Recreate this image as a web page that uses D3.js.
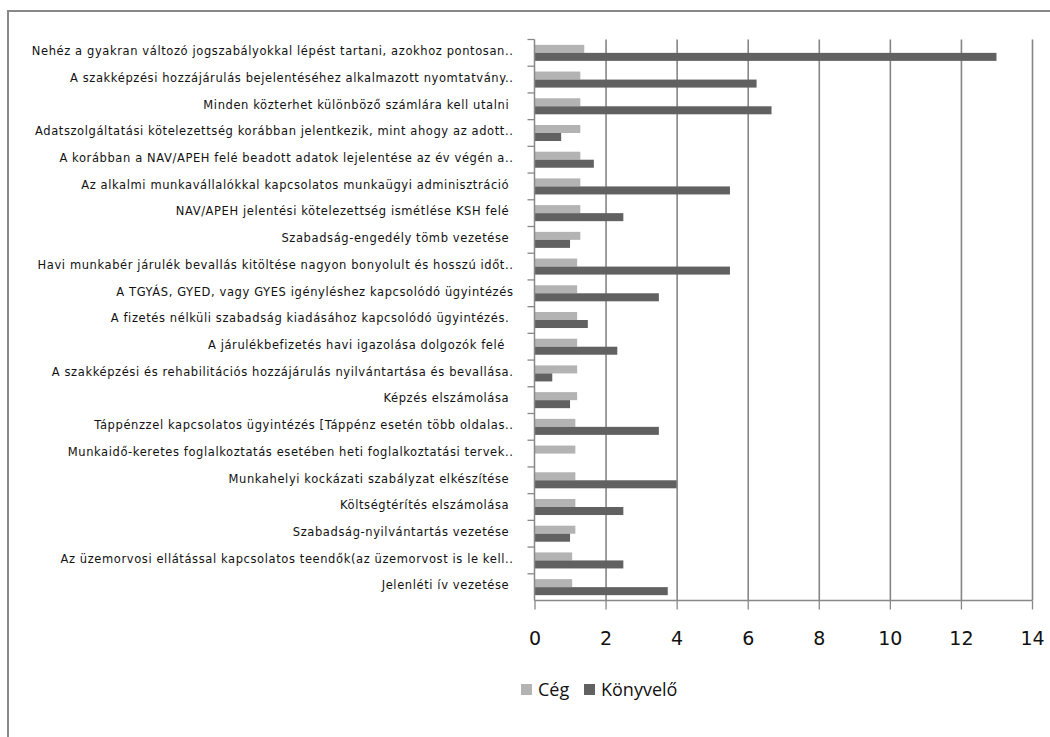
<!DOCTYPE html>
<html>
<head>
<meta charset="utf-8">
<script src="https://cdn.jsdelivr.net/npm/d3@7"></script>
<style>
  html, body { margin: 0; padding: 0; background: #fff; }
  svg { display: block; }
</style>
</head>
<body>
<script>
// Adminisztratív terhek: Cég vs. Könyvelő értékelése
const categories = [
  "Nehéz a gyakran változó jogszabályokkal lépést tartani, azokhoz pontosan..",
  "A szakképzési hozzájárulás bejelentéséhez alkalmazott nyomtatvány..",
  "Minden közterhet különböző számlára kell utalni\u00a0",
  "Adatszolgáltatási kötelezettség korábban jelentkezik, mint ahogy az adott..",
  "A korábban a NAV/APEH felé beadott adatok lejelentése az év végén a..",
  "Az alkalmi munkavállalókkal kapcsolatos munkaügyi adminisztráció\u00a0",
  "NAV/APEH jelentési kötelezettség ismétlése KSH felé\u00a0",
  "Szabadság-engedély tömb vezetése\u00a0",
  "Havi munkabér járulék bevallás kitöltése nagyon bonyolult és hosszú időt..",
  "A TGYÁS, GYED, vagy GYES igényléshez kapcsolódó ügyintézés",
  "A fizetés nélküli szabadság kiadásához kapcsolódó ügyintézés.\u00a0",
  "A járulékbefizetés havi igazolása dolgozók felé\u00a0\u00a0",
  "A szakképzési és rehabilitációs hozzájárulás nyilvántartása és bevallása.",
  "Képzés elszámolása\u00a0",
  "Táppénzzel kapcsolatos ügyintézés [Táppénz esetén több oldalas..",
  "Munkaidő-keretes foglalkoztatás esetében heti foglalkoztatási tervek..",
  "Munkahelyi kockázati szabályzat elkészítése\u00a0",
  "Költségtérítés elszámolása\u00a0",
  "Szabadság-nyilvántartás vezetése\u00a0",
  "Az üzemorvosi ellátással kapcsolatos teendők(az üzemorvost is le kell..",
  "Jelenléti ív vezetése\u00a0"
];

const seriesNames = ["Cég", "Könyvelő"];

const cegValues = [1.4, 1.29, 1.29, 1.29, 1.29, 1.29, 1.29, 1.29, 1.2, 1.2, 1.2,
                   1.2, 1.2, 1.2, 1.15, 1.15, 1.15, 1.15, 1.15, 1.06, 1.06];

const konyveloValues = [13, 6.25, 6.67, 0.75, 1.67, 5.5, 2.5, 1, 5.5, 3.5, 1.5,
                        2.33, 0.5, 1, 3.5, 0, 4, 2.5, 1, 2.5, 3.75];

const xTicks = [0, 2, 4, 6, 8, 10, 12, 14];

const seriesColors = ["#b3b3b3", "#616161"];

const W = 1050, H = 737;
const plot = { left: 534.5, right: 1032, top: 39.5, bottom: 600.5 };

const rows = categories.map((c, i) => ({ cat: c, values: [cegValues[i], konyveloValues[i]] }));

const svg = d3.select("body").append("svg")
  .attr("width", W).attr("height", H);

// outer chart frame (top and left edges)
svg.append("path")
  .attr("d", `M8,${H} L8,11 L${W},11`)
  .attr("fill", "none")
  .attr("stroke", "#888")
  .attr("stroke-width", 2);

const x = d3.scaleLinear().domain([0, 14]).range([plot.left, plot.right]);
const y0 = d3.scaleBand().domain(categories).range([plot.top, plot.bottom]).padding(0);
const y1 = d3.scaleBand().domain(seriesNames)
  .range([y0.bandwidth() * 0.2, y0.bandwidth() * 0.8]).padding(0);

// vertical gridlines
svg.append("g")
  .attr("transform", `translate(0,${plot.bottom})`)
  .call(d3.axisBottom(x).tickValues(xTicks.slice(1)).tickSize(-(plot.bottom - plot.top)).tickFormat(""))
  .call(g => g.select(".domain").remove())
  .call(g => g.selectAll(".tick line").attr("stroke", "#868686").attr("stroke-width", 1.6));

// bars
const groups = svg.append("g").selectAll("g")
  .data(rows).join("g")
  .attr("transform", d => `translate(0,${y0(d.cat)})`);

groups.selectAll("rect")
  .data(d => d.values.map((v, i) => ({ key: seriesNames[i], v, i })))
  .join("rect")
  .attr("x", x(0))
  .attr("y", d => y1(d.key))
  .attr("width", d => x(d.v) - x(0))
  .attr("height", y1.bandwidth())
  .attr("fill", d => seriesColors[d.i]);

// x axis
svg.append("g")
  .attr("transform", `translate(0,${plot.bottom})`)
  .call(d3.axisBottom(x).tickValues(xTicks).tickSize(9).tickPadding(22))
  .call(g => g.select(".domain").attr("stroke", "#888").attr("stroke-width", 1.5)
    .attr("d", `M${plot.left},0H${plot.right}`))
  .call(g => g.selectAll(".tick line").attr("stroke", "#888").attr("stroke-width", 1.3))
  .call(g => g.selectAll(".tick text")
    .attr("font-family", "DejaVu Sans")
    .attr("font-size", 19)
    .attr("fill", "#111"));

// category axis: line, tick marks between categories, labels
svg.append("line")
  .attr("x1", plot.left).attr("x2", plot.left)
  .attr("y1", plot.top).attr("y2", plot.bottom)
  .attr("stroke", "#888").attr("stroke-width", 1.5);

svg.append("g").selectAll("line")
  .data(categories).join("line")
  .attr("x1", plot.left - 7).attr("x2", plot.left)
  .attr("y1", d => y0(d)).attr("y2", d => y0(d))
  .attr("stroke", "#888").attr("stroke-width", 1.3);

svg.append("g")
  .attr("transform", `translate(${plot.left},0)`)
  .call(d3.axisLeft(y0).tickSize(0).tickPadding(21))
  .call(g => g.select(".domain").remove())
  .call(g => g.selectAll(".tick text")
    .attr("font-family", "DejaVu Sans")
    .attr("font-size", 11.5)
    .attr("letter-spacing", "0.6px")
    .attr("dy", "0.2em")
    .attr("fill", "#111"));

// legend
const legend = svg.append("g").attr("transform", "translate(521,690)");
const legendOffsets = [0, 63];
seriesNames.forEach((name, i) => {
  const g = legend.append("g").attr("transform", `translate(${legendOffsets[i]},0)`);
  g.append("rect").attr("x", 0).attr("y", -6).attr("width", 11).attr("height", 11)
    .attr("fill", seriesColors[i]);
  g.append("text").attr("x", 17).attr("y", 0).attr("dy", "0.35em")
    .attr("font-family", "Open Sans")
    .attr("font-size", 18)
    .attr("fill", "#111")
    .text(name);
});
</script>
</body>
</html>
